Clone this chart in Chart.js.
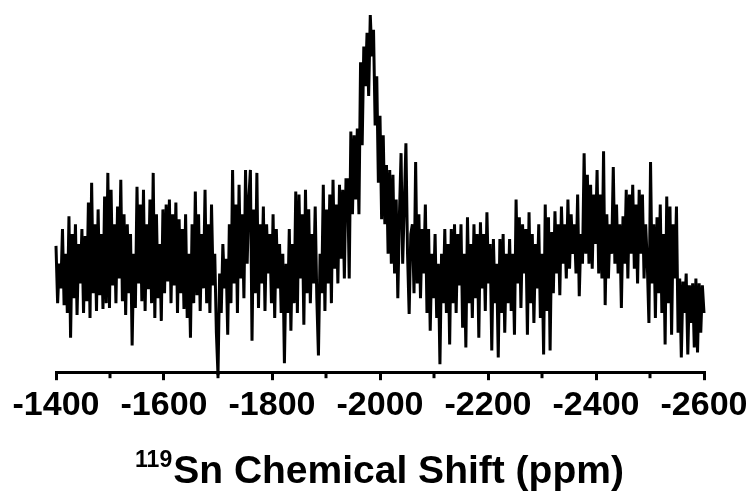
<!DOCTYPE html>
<html>
<head>
<meta charset="utf-8">
<script src="https://cdn.jsdelivr.net/npm/chart.js@4"></script>
<style>
  html, body { margin: 0; padding: 0; background: #fff; }
  #wrap { width: 753px; height: 493px; }
</style>
</head>
<body>
<div id="wrap"><canvas id="nmr" width="753" height="493"></canvas></div>
<script>
// 119Sn spectrum (intensity = pixels above the axis line)
const shiftStart = -1400;   // ppm, first point
const shiftStep = -3;       // ppm between points
const intensity = [
  128, 70, 110, 85, 145, 68, 120, 60, 158, 35, 140, 75, 150, 58, 130, 90, 145, 60, 138, 72,
  172, 55, 192, 80, 150, 62, 165, 78, 140, 64, 178, 70, 202, 65, 185, 88, 150, 70, 168, 95,
  195, 72, 160, 58, 150, 80, 140, 27, 120, 65, 188, 90, 170, 72, 185, 62, 150, 84, 175, 70,
  202, 55, 160, 75, 130, 52, 165, 80, 170, 92, 175, 70, 160, 88, 172, 60, 155, 80, 145, 64,
  160, 55, 120, 35, 150, 70, 183, 78, 160, 62, 140, 85, 185, 70, 150, 60, 170, 88, 120, 40,
  -3, 100, 60, 130, 85, 115, 38, 150, 70, 205, 90, 170, 60, 190, 95, 160, 75, 205, 110, 175,
  205, 32, 165, 80, 202, 65, 150, 90, 168, 62, 150, 100, 140, 70, 160, 55, 145, 85, 130, 60,
  120, 9, 110, 60, 145, 42, 130, 70, 183, 60, 180, 95, 160, 48, 185, 80, 165, 70, 140, 90,
  168, 75, 17, 120, 80, 190, 62, 165, 90, 180, 70, 195, 105, 170, 90, 190, 115, 185, 95, 195,
  195, 95, 244, 160, 240, 175, 247, 160, 314, 230, 330, 290, 344, 280, 362, 320, 347, 250, 300, 192,
  260, 155, 240, 150, 210, 120, 205, 110, 200, 100, 175, 75, 160, 222, 110, 170, 232, 120, 59, 140,
  150, 80, 213, 90, 160, 75, 145, 100, 170, 60, 145, 42, 120, 75, 140, 55, 110, 8, 120, 70,
  145, 60, 130, 28, 145, 70, 150, 60, 140, 88, 150, 45, 120, 25, 157, 70, 130, 55, 150, 75,
  140, 35, 152, 85, 140, 62, 162, 90, 130, 22, 135, 70, 110, 15, 135, 60, 140, 40, 120, 70,
  135, 62, 120, 38, 175, 90, 157, 65, 150, 100, 145, 38, 162, 70, 140, 50, 130, 85, 150, 55,
  120, 18, 170, 62, 157, 22, 142, 80, 163, 100, 150, 78, 168, 110, 150, 95, 175, 105, 160, 120,
  150, 100, 180, 77, 140, 110, 222, 120, 200, 110, 190, 105, 180, 130, 205, 100, 180, 95, 224, 68,
  160, 95, 150, 120, 208, 110, 170, 100, 150, 65, 158, 110, 185, 95, 180, 120, 190, 105, 170, 90,
  185, 120, 180, 95, 150, 110, 50, 213, 90, 150, 55, 157, 80, 170, 60, 140, 28, 178, 70, 168,
  38, 150, 95, 168, 40, 95, 15, 92, 60, 100, 18, 88, 50, 90, 25, 95, 20, 90, 40, 88,
  60
];
const axisMin = -2600;
const axisMax = -1400;
const majorStep = 200;
const minorTicks = [-1500, -1700, -1900, -2100, -2300, -2500];
const axisTitleSup = "119";
const axisTitleMain = "Sn Chemical Shift (ppm)";

const points = intensity.map((v, i) => ({ x: shiftStart + i * shiftStep, y: v }));

const fontFamily = "'Liberation Sans', Arial, sans-serif";

// minor ticks (shorter) between the labelled ones
const minorTickPlugin = {
  id: 'minorTicks',
  afterDraw(chart) {
    const ctx = chart.ctx;
    const xs = chart.scales.x;
    const y0 = chart.chartArea.bottom;
    ctx.save();
    ctx.strokeStyle = '#000';
    ctx.lineWidth = 3;
    minorTicks.forEach(v => {
      const px = xs.getPixelForValue(v);
      ctx.beginPath();
      ctx.moveTo(px, y0);
      ctx.lineTo(px, y0 + 6);
      ctx.stroke();
    });
    ctx.restore();
  }
};

// axis title with superscript mass number
const axisTitlePlugin = {
  id: 'axisTitle',
  afterDraw(chart) {
    const ctx = chart.ctx;
    ctx.save();
    ctx.fillStyle = '#000';
    ctx.textBaseline = 'alphabetic';
    ctx.font = 'bold 23px ' + fontFamily;
    const wSup = ctx.measureText(axisTitleSup).width;
    ctx.font = 'bold 39px ' + fontFamily;
    const wMain = ctx.measureText(axisTitleMain).width;
    const x0 = 379 - (wSup + wMain) / 2;
    const base = 483;
    ctx.font = 'bold 23px ' + fontFamily;
    ctx.fillText(axisTitleSup, x0, base - 16);
    ctx.font = 'bold 39px ' + fontFamily;
    ctx.fillText(axisTitleMain, x0 + wSup + 1, base);
    ctx.restore();
  }
};

const chart = new Chart(document.getElementById('nmr'), {
  type: 'line',
  data: {
    datasets: [{
      data: points,
      borderColor: '#000',
      borderWidth: 3,
      pointRadius: 0,
      tension: 0,
      fill: false,
      clip: false
    }]
  },
  options: {
    responsive: false,
    animation: false,
    layout: { padding: { left: 56, right: 49, top: 17, bottom: 62 } },
    plugins: { legend: { display: false }, tooltip: { enabled: false } },
    scales: {
      x: {
        type: 'linear',
        reverse: true,
        min: axisMin,
        max: axisMax,
        border: { display: true, color: '#000', width: 3 },
        grid: { drawOnChartArea: false, drawTicks: true, tickLength: 8, color: '#000', lineWidth: 3 },
        ticks: {
          stepSize: majorStep,
          autoSkip: false,
          maxRotation: 0,
          color: '#000',
          padding: 5,
          font: { family: fontFamily, size: 34, weight: 'bold' },
          callback: v => String(v)
        }
      },
      y: {
        display: false,
        min: 0,
        max: 360
      }
    }
  },
  plugins: [minorTickPlugin, axisTitlePlugin]
});
</script>
</body>
</html>
